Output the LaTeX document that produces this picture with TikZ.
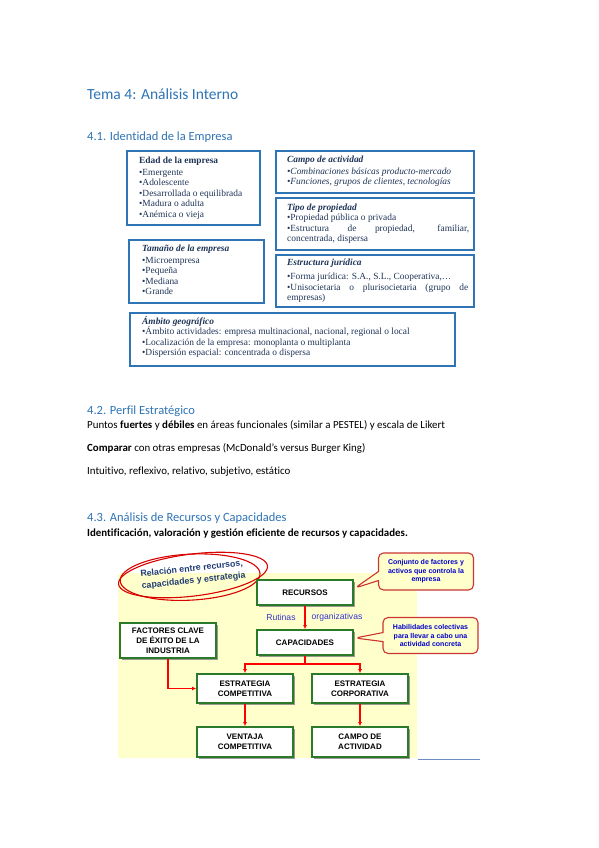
\documentclass[tikz,border=0pt]{standalone}
\usepackage{fontspec}
\setmainfont{Carlito}[Ligatures=NoCommon]
\newfontfamily\cambria{Liberation Serif}
\newfontfamily\arial{Liberation Sans}
\usetikzlibrary{arrows.meta,positioning,shadows,shapes.callouts}
\definecolor{titblue}{HTML}{2E74B5}
\definecolor{boxblue}{HTML}{2F75B5}
\definecolor{txtnavy}{HTML}{1F3558}
\definecolor{boxgreen}{HTML}{2A7A2A}
\definecolor{bgyellow}{HTML}{FFFFCC}
\definecolor{callred}{HTML}{CC3333}
\definecolor{lblblue}{HTML}{3333CC}
\definecolor{relblue}{HTML}{1F3B73}
\definecolor{ruleblue}{HTML}{6A8CC0}

\begin{document}
\begin{tikzpicture}[x=1pt,y=-1pt,
  h1/.style={anchor=base west,inner sep=0pt,text=titblue,font=\fontsize{15.5}{18}\selectfont},
  h2/.style={anchor=base west,inner sep=0pt,text=titblue,font=\fontsize{12.5}{15}\selectfont},
  body/.style={anchor=base west,inner sep=0pt,font=\fontsize{10.9}{12}\selectfont},
  idbox/.style={draw=boxblue,line width=1.8pt,fill=white,inner sep=0pt,anchor=north west,
    drop shadow={shadow xshift=1.5pt,shadow yshift=-1.5pt,opacity=0.35}},
  idtxt/.style={anchor=north west,inner sep=0pt,align=left,text=txtnavy,
    font=\cambria\fontsize{9.4}{10.5}\selectfont},
  kbox/.style={draw=boxgreen,line width=1.8pt,fill=white,align=center,inner sep=0pt,
    minimum width=96,font=\arial\bfseries\fontsize{8}{10}\selectfont,
    drop shadow={shadow xshift=2pt,shadow yshift=-2pt,fill=black!50,opacity=0.8}},
  callbox/.style={rectangle callout,draw=callred,fill=bgyellow,line width=1.1pt,
    rounded corners=5pt,align=center,inner sep=0pt,text=blue!80!black,
    callout pointer width=9pt,font=\arial\bfseries\fontsize{7}{8.4}\selectfont},
  lbl/.style={inner sep=0pt,text=lblblue,font=\arial\fontsize{8.6}{10}\selectfont},
  redline/.style={draw=red,line width=1.2pt},
  redarrow/.style={redline,-{Latex[length=4pt,width=4pt]}},
  handred/.style={draw=red!85!black,line width=1.1pt}
]
\useasboundingbox (0,0) rectangle (599,848);
\fill[white] (0,0) rectangle (599,848);

% titulos y texto
\node[h1] (tema) at (87,100) {Tema 4: Análisis Interno};
\node[h2] (sec41) at (87,140) {4.1. Identidad de la Empresa};
\node[h2] (sec42) at (87,414) {4.2. Perfil Estratégico};
\node[body] (perfil1) at (87,428) {Puntos \textbf{fuertes} y \textbf{débiles} en áreas funcionales (similar a PESTEL) y escala de Likert};
\node[body] (perfil2) at (87,451) {\textbf{Comparar} con otras empresas (McDonald’s versus Burger King)};
\node[body] (perfil3) at (87,474) {Intuitivo, reflexivo, relativo, subjetivo, estático};
\node[h2] (sec43) at (87,521) {4.3. Análisis de Recursos y Capacidades};
\node[body] (ident) at (87,536) {\textbf{Identificación, valoración y gestión eficiente de recursos y capacidades.}};

% identidad de la empresa
\node[idbox,minimum width=133,minimum height=74] (edad) at (126,150) {};
\node[idtxt] (edadtxt) at (139,156.5) {\textbf{Edad de la empresa}\\[1.5pt]
  •Emergente\\•Adolescente\\•Desarrollada o equilibrada\\•Madura o adulta\\•Anémica o vieja};
\node[idbox,minimum width=198,minimum height=42] (campo) at (275,150) {};
\node[idtxt] (campotxt) at (287,155.5) {\textbf{\itshape Campo de actividad}\\[1.5pt]
  \itshape •Combinaciones básicas producto-mercado\\\itshape •Funciones, grupos de clientes, tecnologías};
\node[idbox,minimum width=198,minimum height=52] (tipo) at (275,197) {};
\node[idtxt] (tipotxt) at (287,203.5) {\textbf{\itshape Tipo de propiedad}\\
  •Propiedad pública o privada\\\makebox[182pt][s]{•Estructura de propiedad, familiar,}\\concentrada, dispersa};
\node[idbox,minimum width=135,minimum height=63] (tamano) at (128,239) {};
\node[idtxt] (tamanotxt) at (142,244.5) {\textbf{\itshape Tamaño de la empresa}\\[1.5pt]
  •Microempresa\\•Pequeña\\•Mediana\\•Grande};
\node[idbox,minimum width=198,minimum height=52] (estruc) at (275,254) {};
\node[idtxt] (estructxt) at (287,258.5) {\textbf{\itshape Estructura jurídica}\\[4pt]
  •Forma jurídica: S.A., S.L., Cooperativa,…\\\makebox[181pt][s]{•Unisocietaria o plurisocietaria (grupo de}\\empresas)};
\node[idbox,minimum width=325,minimum height=53] (ambito) at (129,312) {};
\node[idtxt] (ambitotxt) at (142,316) {\textbf{\itshape Ámbito geográfico}\\
  •Ámbito actividades: empresa multinacional, nacional, regional o local\\
  •Localización de la empresa: monoplanta o multiplanta\\
  •Dispersión espacial: concentrada o dispersa};

% recursos y capacidades
\fill[bgyellow] (118,573) rectangle (417,758);
\coordinate (ruleA) at (418,759);
\coordinate (ruleB) at (480,759);
\draw[ruleblue,line width=0.8pt] (ruleA) -- (ruleB);

\node[inner sep=0pt,rotate=6,align=left,text=relblue,font=\arial\bfseries\fontsize{8.8}{12}\selectfont]
  (rel) at (193,575) {Relación entre recursos,\\capacidades y estrategia};
\draw[handred,rotate around={7:(rel.center)}] (rel.center) ellipse [x radius=75,y radius=21];
\draw[handred,rotate around={3:(rel.center)}] ([shift={(-3,2)}]rel.center) ellipse [x radius=70,y radius=23];

\node[kbox,minimum height=25] (rec) at (305,592.5) {RECURSOS};
\node[kbox,minimum height=25] (cap) at (305,642.5) {CAPACIDADES};
\node[kbox,minimum height=35] (fact) at (168,640.5) {FACTORES CLAVE\\DE ÉXITO DE LA\\INDUSTRIA};
\node[kbox,minimum height=29] (ecomp) at (245,688.5) {ESTRATEGIA\\COMPETITIVA};
\node[kbox,minimum height=29] (ecorp) at (360,688.5) {ESTRATEGIA\\CORPORATIVA};
\node[kbox,minimum height=30] (vent) at (245,742) {VENTAJA\\COMPETITIVA};
\node[kbox,minimum height=30] (cact) at (360,742) {CAMPO DE\\ACTIVIDAD};

\node[lbl] (rut) at (281,617) {Rutinas};
\node[lbl] (org) at (337,617) {organizativas};

\node[callbox,minimum width=95,minimum height=37,callout absolute pointer={(355,588)}]
  (call1) at (426,571.5) {Conjunto de factores y\\activos que controla la\\empresa};
\node[callbox,minimum width=95,minimum height=36,callout absolute pointer={(355,638)}]
  (call2) at (430.5,635.5) {Habilidades colectivas\\para llevar a cabo una\\actividad concreta};

\coordinate (split) at (305,664);
\draw[redarrow] (rec.south) -- (cap.north);
\draw[redline] (cap.south) -- (split);
\draw[redarrow] (split) -| (ecomp.north);
\draw[redarrow] (split) -| (ecorp.north);
\draw[redarrow] (fact.south) |- (ecomp.west);
\draw[redarrow] (ecomp.south) -- (vent.north);
\draw[redarrow] (ecorp.south) -- (cact.north);
\end{tikzpicture}
\end{document}
